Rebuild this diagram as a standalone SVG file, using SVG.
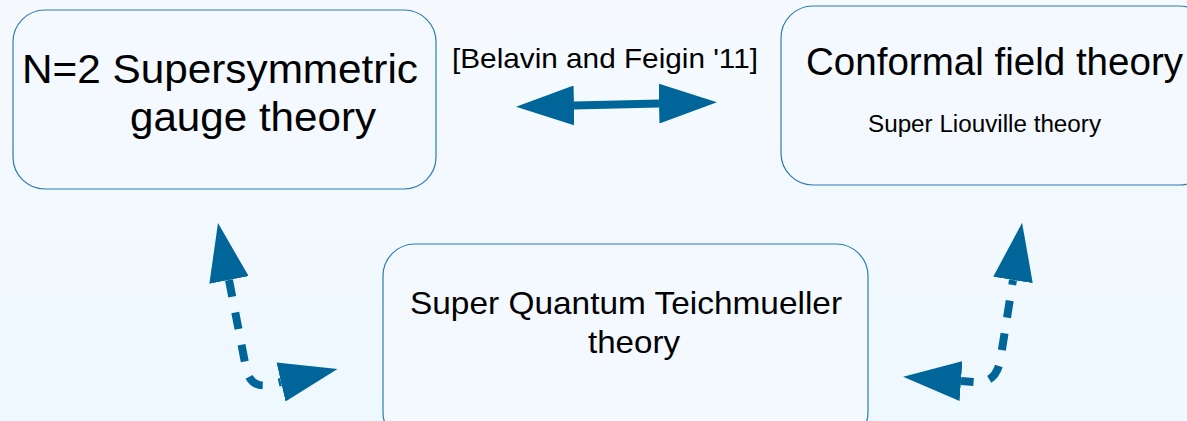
<svg xmlns="http://www.w3.org/2000/svg" width="1187" height="421" viewBox="0 0 1187 421">
<defs>
<linearGradient id="bg" x1="0" y1="0" x2="0" y2="1">
<stop offset="0" stop-color="#f6fafe"/>
<stop offset="1" stop-color="#eef8ff"/>
</linearGradient>
<marker id="ah" viewBox="0 0 58 40" refX="0" refY="20" markerWidth="58" markerHeight="40" markerUnits="userSpaceOnUse" orient="auto-start-reverse">
<path d="M0,0 L58,20 L0,40 Z" fill="#006699"/>
</marker>
<style>
.node{fill:#f3f9ff;stroke:#2b7cb0;stroke-width:1.2}
.t{font-family:"Liberation Sans",Arial,sans-serif;fill:#000}
.c{fill:none;stroke:#006699;stroke-width:8}
.d{stroke-dasharray:17 16}
</style>
</defs>
<rect width="1187" height="421" fill="url(#bg)"/>
<g id="node-gauge">
<rect class="node" x="13" y="10" width="423" height="179" rx="32"/>
<text class="t" x="22" y="83" font-size="40" textLength="396" lengthAdjust="spacingAndGlyphs">N=2 Supersymmetric</text>
<text class="t" x="130" y="131" font-size="40" textLength="246" lengthAdjust="spacingAndGlyphs">gauge theory</text>
</g>
<g id="node-cft">
<rect class="node" x="781" y="6" width="430" height="179" rx="32"/>
<text class="t" x="806" y="75" font-size="39" textLength="377" lengthAdjust="spacingAndGlyphs">Conformal field theory</text>
<text class="t" x="868" y="132" font-size="23" textLength="233" lengthAdjust="spacingAndGlyphs">Super Liouville theory</text>
</g>
<g id="node-teich">
<rect class="node" x="383" y="244" width="485" height="200" rx="32"/>
<text class="t" x="410" y="314" font-size="32" textLength="432" lengthAdjust="spacingAndGlyphs">Super Quantum Teichmueller</text>
<text class="t" x="588" y="353" font-size="32" textLength="92" lengthAdjust="spacingAndGlyphs">theory</text>
</g>
<g id="connectors">
<text class="t" x="452" y="68" font-size="28" textLength="306" lengthAdjust="spacingAndGlyphs">[Belavin and Feigin '11]</text>
<path class="c" d="M574,105.5 L659,103.5" marker-start="url(#ah)" marker-end="url(#ah)"/>
<path class="c d" d="M229,280 L246,368 Q250,388 268,385 L281,382" marker-start="url(#ah)" marker-end="url(#ah)"/>
<path class="c d" d="M1013,280 L1000,362 Q995,384 975,382 L961,381" stroke-dashoffset="12" marker-start="url(#ah)" marker-end="url(#ah)"/>
</g>
</svg>
